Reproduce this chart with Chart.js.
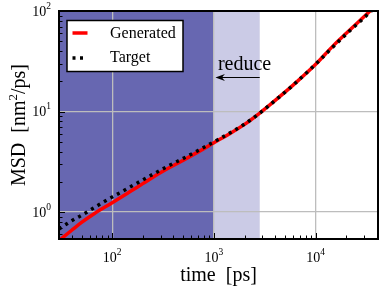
<!DOCTYPE html>
<html>
<head>
<meta charset="utf-8">
<script src="https://cdn.jsdelivr.net/npm/chart.js@4.4.0/dist/chart.umd.min.js"></script>
<style>
    html, body { margin: 0; padding: 0; background: #fff; }
    canvas { display: block; }
</style>
</head>
<body>
<canvas id="msd-chart" width="382" height="294"></canvas>
<script>
// values
const timeGenerated = [30, 40, 50, 67, 100, 150, 200, 300, 500, 700, 1000, 1400, 2000, 2800, 4000, 6000, 10000, 15000, 20000, 30000, 41000];
const msdGenerated = [0.52, 0.66, 0.79, 0.97, 1.24, 1.6, 1.92, 2.48, 3.28, 3.97, 4.9, 5.95, 7.45, 9.6, 12.9, 18.3, 29.5, 45.5, 60, 88, 119];
const timeTarget = [30, 40, 50, 65, 90, 125, 175, 250, 350, 500, 700, 1000, 1400, 2000, 2800, 4000, 6000, 10000, 15000, 20000, 30000, 41000];
const msdTarget = [0.68, 0.82, 0.93, 1.09, 1.33, 1.6, 1.94, 2.37, 2.85, 3.42, 4.1, 5.0, 6.05, 7.5, 9.6, 12.9, 18.3, 29.6, 44.5, 59, 86, 116];
const xMajorTicks = [100, 1000, 10000];
const yMajorTicks = [1, 10, 100];
const fitEnd = 1000;
const reduceEnd = 2820;

const serif = "'Liberation Serif', 'DejaVu Serif', serif";

function toPoints(xs, ys) {
    return xs.map((t, i) => ({ x: t, y: ys[i] }));
}

// draws pieces of text one after another, each with its own size and rise
function runWidth(ctx, parts) {
    let w = 0;
    parts.forEach(p => {
        ctx.font = p.size + "px " + serif;
        w += ctx.measureText(p.t).width;
    });
    return w;
}
function drawRun(ctx, parts, x, y) {
    parts.forEach(p => {
        ctx.font = p.size + "px " + serif;
        ctx.fillText(p.t, x, y - (p.rise || 0));
        x += ctx.measureText(p.t).width;
    });
}
function powerLabel(exp) {
    return [{ t: "10", size: 14 }, { t: String(exp), size: 9.5, rise: 7 }];
}

function minorValues(min, max) {
    const out = [];
    for (let d = Math.pow(10, Math.floor(Math.log10(min))); d < max; d *= 10) {
        for (let k = 2; k <= 9; k++) {
            const v = k * d;
            if (v > min && v < max) out.push(v);
        }
    }
    return out;
}

const decorPlugin = {
    id: "decor",
    beforeDraw(chart) {
        const { ctx, chartArea: a, scales: { x } } = chart;
        const xFit = x.getPixelForValue(fitEnd);
        const xRed = x.getPixelForValue(reduceEnd);
        ctx.save();
        ctx.fillStyle = "#6767b1";
        ctx.fillRect(a.left, a.top, xFit - a.left, a.bottom - a.top);
        ctx.fillStyle = "#cbcbe6";
        ctx.fillRect(xFit, a.top, xRed - xFit, a.bottom - a.top);
        ctx.restore();
    },
    afterDraw(chart) {
        const { ctx, chartArea: a, scales: { x, y } } = chart;
        ctx.save();
        ctx.strokeStyle = "#000";
        ctx.fillStyle = "#000";

        // ticks, inward, bottom and left only
        ctx.lineWidth = 1;
        ctx.beginPath();
        minorValues(x.min, x.max).forEach(v => {
            const px = Math.round(x.getPixelForValue(v)) + 0.5;
            ctx.moveTo(px, a.bottom);
            ctx.lineTo(px, a.bottom - 3.5);
        });
        minorValues(y.min, y.max).forEach(v => {
            const py = Math.round(y.getPixelForValue(v)) + 0.5;
            ctx.moveTo(a.left, py);
            ctx.lineTo(a.left + 3.5, py);
        });
        xMajorTicks.forEach(v => {
            const px = Math.round(x.getPixelForValue(v)) + 0.5;
            ctx.moveTo(px, a.bottom);
            ctx.lineTo(px, a.bottom - 6);
        });
        yMajorTicks.forEach(v => {
            const py = Math.round(y.getPixelForValue(v)) + 0.5;
            ctx.moveTo(a.left, py);
            ctx.lineTo(a.left + 6, py);
        });
        ctx.stroke();

        // frame
        ctx.lineWidth = 2;
        ctx.strokeRect(a.left, a.top, a.right - a.left, a.bottom - a.top);

        // tick labels
        ctx.textBaseline = "alphabetic";
        ctx.textAlign = "left";
        xMajorTicks.forEach(v => {
            const parts = powerLabel(Math.round(Math.log10(v)));
            const w = runWidth(ctx, parts);
            drawRun(ctx, parts, x.getPixelForValue(v) - w / 2, 262);
        });
        yMajorTicks.forEach(v => {
            const parts = powerLabel(Math.round(Math.log10(v)));
            const w = runWidth(ctx, parts);
            drawRun(ctx, parts, 51 - w, y.getPixelForValue(v) + 4.5);
        });

        // axis titles
        const xTitle = [{ t: "time  [ps]", size: 20 }];
        drawRun(ctx, xTitle, (a.left + a.right) / 2 - runWidth(ctx, xTitle) / 2, 281);

        const yTitle = [
            { t: "MSD  [nm", size: 20 },
            { t: "2", size: 13, rise: 8 },
            { t: "/ps]", size: 20 },
        ];
        ctx.save();
        ctx.translate(25, (a.top + a.bottom) / 2);
        ctx.rotate(-Math.PI / 2);
        drawRun(ctx, yTitle, -runWidth(ctx, yTitle) / 2, 0);
        ctx.restore();

        // legend
        ctx.fillStyle = "#fff";
        ctx.fillRect(67, 20.5, 116, 51);
        ctx.lineWidth = 1.5;
        ctx.strokeRect(67, 20.5, 116, 51);
        ctx.strokeStyle = "#ff0000";
        ctx.lineWidth = 3.5;
        ctx.beginPath();
        ctx.moveTo(72.5, 33);
        ctx.lineTo(87.5, 33);
        ctx.stroke();
        ctx.strokeStyle = "#000";
        ctx.setLineDash([3, 4.5]);
        ctx.beginPath();
        ctx.moveTo(72.5, 58);
        ctx.lineTo(87.5, 58);
        ctx.stroke();
        ctx.setLineDash([]);
        ctx.fillStyle = "#000";
        ctx.textBaseline = "middle";
        ctx.font = "16px " + serif;
        ctx.fillText("Generated", 110, 34);
        ctx.fillText("Target", 110, 57.5);

        // "reduce" annotation
        const xFit = x.getPixelForValue(fitEnd);
        const xRed = x.getPixelForValue(reduceEnd);
        ctx.textBaseline = "alphabetic";
        ctx.font = "20px " + serif;
        ctx.fillText("reduce", xFit + 4, 70);
        ctx.lineWidth = 1;
        ctx.beginPath();
        ctx.moveTo(xRed, 77.5);
        ctx.lineTo(xFit + 8, 77.5);
        ctx.stroke();
        ctx.beginPath();
        ctx.moveTo(xFit + 1.5, 77.5);
        ctx.lineTo(xFit + 11, 74);
        ctx.lineTo(xFit + 8, 77.5);
        ctx.lineTo(xFit + 11, 81);
        ctx.closePath();
        ctx.fill();

        ctx.restore();
    },
};

const msdCtx = document.querySelector("#msd-chart").getContext("2d");

const msdChart = new Chart(msdCtx, {
    type: "scatter",
    data: {
        datasets: [
            {
                label: "Target",
                data: toPoints(timeTarget, msdTarget),
                showLine: true,
                borderColor: "#000000",
                borderWidth: 3.5,
                borderDash: [3, 4.5],
                borderCapStyle: "butt",
                pointRadius: 0,
                cubicInterpolationMode: "monotone",
                order: 1,
            },
            {
                label: "Generated",
                data: toPoints(timeGenerated, msdGenerated),
                showLine: true,
                borderColor: "#ff0000",
                borderWidth: 3.5,
                pointRadius: 0,
                cubicInterpolationMode: "monotone",
                order: 2,
            },
        ],
    },
    options: {
        responsive: false,
        animation: false,
        events: [],
        layout: {
            padding: { left: 59, right: 4, top: 11, bottom: 55 },
        },
        scales: {
            x: {
                type: "logarithmic",
                min: 30,
                max: 41000,
                afterBuildTicks: s => { s.ticks = xMajorTicks.map(v => ({ value: v })); },
                ticks: { display: false },
                grid: { color: "#bdbdbd", lineWidth: 1.3, drawTicks: false },
                border: { display: false },
            },
            y: {
                type: "logarithmic",
                min: 0.54,
                max: 100,
                afterBuildTicks: s => { s.ticks = yMajorTicks.map(v => ({ value: v })); },
                ticks: { display: false },
                grid: { color: "#bdbdbd", lineWidth: 1.3, drawTicks: false },
                border: { display: false },
            },
        },
        plugins: {
            legend: { display: false },
            tooltip: { enabled: false },
        },
    },
    plugins: [decorPlugin],
});
</script>
</body>
</html>
